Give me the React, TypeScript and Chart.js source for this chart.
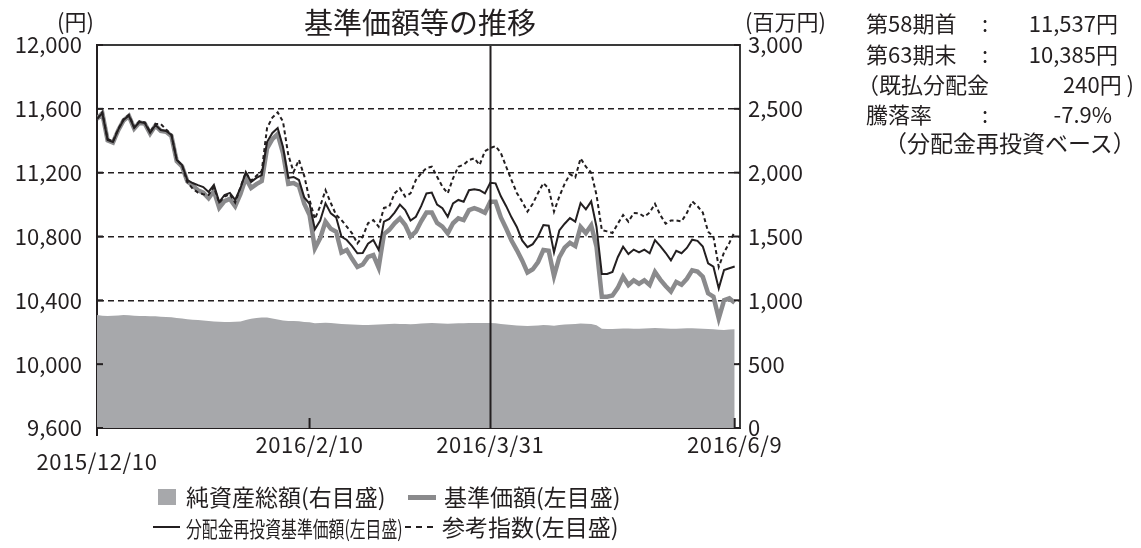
import React, { useEffect, useRef } from "react";
import { Chart, registerables } from "chart.js";

Chart.register(...registerables);

// x positions are business-day indices from 2015/12/10 (0) to 2016/6/9 (120)
const xTickIndex = [0, 40, 74, 120];
const xTickLabels = ["2015/12/10", "2016/2/10", "2016/3/31", "2016/6/9"];
const markerIndex = 74; // 2016/3/31 vertical line

const leftTicks = [9600, 10000, 10400, 10800, 11200, 11600, 12000];
const rightTicks = [0, 500, 1000, 1500, 2000, 2500, 3000];

// 分配金再投資基準価額（左目盛）
const navReinvest = [
  11537, 11574, 11405, 11392, 11470, 11530, 11558, 11480, 11518, 11511,
  11449, 11499, 11467, 11461, 11436, 11279, 11248, 11154, 11135, 11122,
  11110, 11079, 11123, 11016, 11060, 11073, 11029, 11104, 11204, 11142,
  11167, 11185, 11392, 11449, 11480, 11361, 11167, 11173, 11154, 11045,
  11005, 10845, 10900, 11008, 10945, 10920, 10800, 10778, 10740, 10695,
  10697, 10755, 10778, 10716, 10893, 10910, 10950, 11000, 10966, 10900,
  10924, 10990, 11070, 11075, 11000, 10977, 10924, 11008, 11029, 11018,
  11090, 11096, 11090, 11070, 11137, 11133, 11052, 10990, 10920, 10860,
  10775, 10733, 10752, 10800, 10872, 10868, 10700, 10838, 10880, 10915,
  10893, 11010, 10970, 11020, 10860, 10565, 10565, 10578, 10670, 10736,
  10690, 10718, 10700, 10718, 10695, 10778, 10740, 10698, 10650, 10710,
  10695, 10728, 10780, 10773, 10737, 10632, 10611, 10475, 10590, 10601,
  10612,
];

// 基準価額（左目盛）
const navBase = [
  11537, 11572, 11402, 11388, 11466, 11527, 11555, 11476, 11514, 11507,
  11445, 11495, 11462, 11456, 11430, 11272, 11240, 11145, 11120, 11090,
  11075, 11040, 11085, 10980, 11022, 11036, 10990, 11066, 11166, 11104,
  11128, 11147, 11352, 11410, 11442, 11322, 11130, 11135, 11116, 11005,
  10935, 10726, 10790, 10893, 10848, 10830, 10700, 10716, 10660, 10609,
  10625, 10672, 10684, 10605, 10815, 10842, 10883, 10914, 10872, 10800,
  10830, 10895, 10950, 10950, 10885, 10862, 10820, 10883, 10914, 10903,
  10965, 10977, 10965, 10949, 11018, 11018, 10920, 10850, 10775, 10715,
  10650, 10575, 10595, 10640, 10715, 10710, 10552, 10670, 10730, 10760,
  10740, 10860, 10822, 10870, 10736, 10423, 10423, 10430, 10478, 10548,
  10496, 10525, 10504, 10525, 10496, 10578, 10530, 10490, 10455, 10515,
  10498, 10535, 10588, 10580, 10548, 10444, 10423, 10287, 10400, 10412,
  10385,
];

// 参考指数（左目盛）
const benchmark = [
  11537, 11578, 11410, 11396, 11474, 11535, 11562, 11485, 11522, 11515,
  11455, 11505, 11505, 11470, 11440, 11282, 11246, 11140, 11100, 11075,
  11065, 11060, 11110, 11010, 11050, 11065, 11012, 11110, 11200, 11150,
  11180, 11210, 11480, 11545, 11578, 11520, 11310, 11205, 11280, 11180,
  11030, 10910, 10990, 11090, 11010, 10935, 10903, 10862, 10820, 10757,
  10799, 10883, 10903, 10862, 10979, 10987, 11070, 11102, 11050, 11070,
  11154, 11196, 11229, 11237, 11175, 11112, 11070, 11165, 11237, 11250,
  11279, 11290, 11248, 11335, 11354, 11367, 11323, 11237, 11154, 11073,
  11020, 10956, 11005, 11073, 11135, 11100, 10956, 11050, 11130, 11190,
  11170, 11290, 11237, 11200, 11060, 10840, 10832, 10822, 10880, 10935,
  10893, 10947, 10945, 10924, 10950, 11005, 10935, 10880, 10900, 10900,
  10895, 10947, 11020, 10990, 10950, 10830, 10799, 10610, 10700, 10760,
  10830,
];

// 純資産総額（右目盛, 百万円）
const netAssets = [
  885, 880, 878, 880, 882, 885, 884, 880, 878, 878,
  876, 875, 872, 870, 868, 862, 858, 852, 848, 845,
  842, 838, 835, 832, 830, 830, 832, 835, 845, 855,
  862, 866, 865, 858, 850, 842, 838, 838, 836, 830,
  828, 820, 822, 825, 822, 818, 815, 812, 810, 808,
  806, 806, 808, 810, 812, 815, 816, 815, 814, 812,
  815, 818, 820, 822, 820, 818, 816, 818, 820, 820,
  822, 823, 823, 822, 822, 820, 815, 810, 806, 802,
  800, 798, 800, 803, 806, 805, 800, 806, 810, 812,
  815, 818, 816, 815, 805, 778, 776, 776, 778, 780,
  780, 778, 778, 780, 782, 784, 782, 780, 778, 778,
  780, 782, 782, 780, 778, 776, 774, 770, 768, 772,
  773,
];

const FONT = '"Noto Sans CJK JP", "Noto Sans", sans-serif';
const INK = "#231f20";

const toXY = (arr: number[]) => arr.map((v, i) => ({ x: i, y: v }));

const decorPlugin = {
  id: "decor",
  afterDatasetsDraw(chart: any) {
    const { ctx, chartArea: a, scales } = chart;
    const xs = scales.x;
    const yl = scales.y;
    const yr = scales.y1;
    ctx.save();
    // 3/31 marker line
    const mx = Math.round(xs.getPixelForValue(markerIndex)) + 0.5;
    ctx.strokeStyle = INK;
    ctx.lineWidth = 2;
    ctx.beginPath();
    ctx.moveTo(mx, a.top);
    ctx.lineTo(mx, a.bottom);
    ctx.stroke();
    // top and right frame
    ctx.strokeStyle = "#3a3a3a";
    ctx.lineWidth = 2;
    ctx.beginPath();
    ctx.moveTo(a.left, a.top);
    ctx.lineTo(a.right, a.top);
    ctx.lineTo(a.right, a.bottom);
    ctx.stroke();
    // inward tick marks on left and right axes
    ctx.strokeStyle = INK;
    ctx.lineWidth = 2;
    leftTicks.forEach((v) => {
      const y = yl.getPixelForValue(v);
      ctx.beginPath();
      ctx.moveTo(a.left, y);
      ctx.lineTo(a.left + 6, y);
      ctx.stroke();
    });
    rightTicks.forEach((v) => {
      const y = yr.getPixelForValue(v);
      ctx.beginPath();
      ctx.moveTo(a.right - 6, y);
      ctx.lineTo(a.right, y);
      ctx.stroke();
    });
    // x-axis tick marks
    xTickIndex.forEach((idx) => {
      const x = xs.getPixelForValue(idx);
      ctx.beginPath();
      if (idx === 0) {
        ctx.moveTo(x, a.bottom);
        ctx.lineTo(x, a.bottom + 8);
      } else if (idx !== markerIndex) {
        ctx.moveTo(x, a.bottom);
        ctx.lineTo(x, a.bottom - 10);
      }
      ctx.stroke();
    });
    // x-axis labels
    ctx.fillStyle = INK;
    ctx.font = `22px ${FONT}`;
    try {
      (ctx as any).letterSpacing = "0.6px";
    } catch (e) {
      /* ignore */
    }
    ctx.textAlign = "center";
    ctx.textBaseline = "middle";
    xTickIndex.forEach((idx, i) => {
      const x = xs.getPixelForValue(idx);
      const y = i === 0 ? a.bottom + 34 : a.bottom + 17;
      ctx.fillText(xTickLabels[i], x, y);
    });
    ctx.restore();
  },
};

export default function App() {
  const ref = useRef<HTMLCanvasElement | null>(null);

  useEffect(() => {
    if (!ref.current) return;
    const chart = new Chart(ref.current, {
      type: "line",
      data: {
        datasets: [
          {
            label: "参考指数(左目盛)",
            data: toXY(benchmark),
            yAxisID: "y",
            borderColor: INK,
            borderWidth: 2,
            borderDash: [4, 3],
            pointRadius: 0,
            tension: 0,
            order: 0,
          },
          {
            label: "分配金再投資基準価額(左目盛)",
            data: toXY(navReinvest),
            yAxisID: "y",
            borderColor: INK,
            borderWidth: 2,
            pointRadius: 0,
            tension: 0,
            order: 1,
          },
          {
            label: "基準価額(左目盛)",
            data: toXY(navBase),
            yAxisID: "y",
            borderColor: "#8a8a8c",
            borderWidth: 4.5,
            pointRadius: 0,
            tension: 0,
            order: 2,
          },
          {
            label: "純資産総額(右目盛)",
            data: toXY(netAssets),
            yAxisID: "y1",
            borderWidth: 0,
            borderColor: "rgba(0,0,0,0)",
            backgroundColor: "#a7a8ab",
            fill: "start",
            pointRadius: 0,
            tension: 0,
            order: 3,
          },
        ],
      },
      options: {
        responsive: false,
        animation: false,
        events: [],
        layout: { padding: { top: 45, left: 0, right: 0, bottom: 0 } },
        plugins: {
          legend: { display: false },
          title: { display: false },
          tooltip: { enabled: false },
        },
        scales: {
          x: {
            type: "linear",
            min: 0,
            max: 121,
            ticks: { display: false },
            grid: { display: false, drawTicks: false },
            border: { display: true, color: INK, width: 2 },
            afterFit: (s: any) => {
              s.height = 120;
            },
          },
          y: {
            position: "left",
            min: 9600,
            max: 12000,
            afterBuildTicks: (s: any) => {
              s.ticks = leftTicks.map((v) => ({ value: v }));
            },
            ticks: {
              padding: 15,
              color: INK,
              font: { family: FONT, size: 22 },
              callback: (v: any) => Number(v).toLocaleString("en-US"),
            },
            grid: { color: INK, lineWidth: 1.6, drawTicks: false },
            border: { display: true, color: INK, width: 2, dash: [6, 4] },
            afterFit: (s: any) => {
              s.width = 97;
            },
          },
          y1: {
            position: "right",
            min: 0,
            max: 3000,
            afterBuildTicks: (s: any) => {
              s.ticks = rightTicks.map((v) => ({ value: v }));
            },
            ticks: {
              padding: 8,
              color: INK,
              font: { family: FONT, size: 22 },
              callback: (v: any) => Number(v).toLocaleString("en-US"),
            },
            grid: { display: false, drawTicks: false },
            border: { display: true, color: INK, width: 2 },
            afterFit: (s: any) => {
              s.width = 401;
            },
          },
        },
      },
      plugins: [decorPlugin],
    } as any);
    return () => chart.destroy();
  }, []);

  const txt: React.CSSProperties = {
    position: "absolute",
    fontFamily: FONT,
    color: INK,
    whiteSpace: "nowrap",
    lineHeight: 1,
  };

  return (
    <div
      style={{
        position: "absolute",
        left: 0,
        top: 0,
        width: 1141,
        height: 548,
        background: "#fff",
        overflow: "hidden",
      }}
    >
      <canvas ref={ref} width={1141} height={548} style={{ position: "absolute", left: 0, top: 0 }} />
      {/* title and unit labels */}
      <div style={{ ...txt, left: 304, top: 7, fontSize: 29 }}>基準価額等の推移</div>
      <div style={{ ...txt, left: 57, top: 9, fontSize: 22 }}>(円)</div>
      <div style={{ ...txt, left: 745, top: 9, fontSize: 22 }}>(百万円)</div>

      {/* right info block */}
      <div style={{ ...txt, left: 866, top: 11, fontSize: 22 }}>第58期首</div>
      <div style={{ ...txt, left: 982, top: 11, fontSize: 22 }}>:</div>
      <div style={{ ...txt, left: 1000, width: 118, textAlign: "right", top: 11, fontSize: 22 }}>11,537円</div>

      <div style={{ ...txt, left: 866, top: 42, fontSize: 22 }}>第63期末</div>
      <div style={{ ...txt, left: 982, top: 42, fontSize: 22 }}>:</div>
      <div style={{ ...txt, left: 1000, width: 118, textAlign: "right", top: 42, fontSize: 22 }}>10,385円</div>

      <div style={{ ...txt, left: 857, top: 72, fontSize: 22 }}>（既払分配金</div>
      <div style={{ ...txt, left: 1010, width: 124, textAlign: "right", top: 72, fontSize: 22 }}>240円 )</div>

      <div style={{ ...txt, left: 866, top: 102, fontSize: 22 }}>騰落率</div>
      <div style={{ ...txt, left: 982, top: 102, fontSize: 22 }}>:</div>
      <div style={{ ...txt, left: 1000, width: 112, textAlign: "right", top: 102, fontSize: 22 }}>-7.9%</div>

      <div style={{ ...txt, left: 884, top: 131, fontSize: 23 }}>（分配金再投資ベース）</div>

      {/* legend */}
      <div style={{ position: "absolute", left: 158, top: 489, width: 18, height: 16, background: "#a7a8ab" }} />
      <div style={{ ...txt, left: 186, top: 485, fontSize: 23 }}>純資産総額(右目盛)</div>
      <div style={{ position: "absolute", left: 408, top: 495, width: 28, height: 5, background: "#8a8a8c" }} />
      <div style={{ ...txt, left: 444, top: 485, fontSize: 23 }}>基準価額(左目盛)</div>

      <div style={{ position: "absolute", left: 153, top: 526, width: 27, height: 2, background: INK }} />
      <div
        style={{
          ...txt,
          left: 186,
          top: 516,
          fontSize: 22,
          transform: "scaleX(0.72)",
          transformOrigin: "left center",
        }}
      >
        分配金再投資基準価額(左目盛)
      </div>
      <div
        style={{
          position: "absolute",
          left: 405,
          top: 526,
          width: 28,
          height: 0,
          borderTop: `2px dashed ${INK}`,
        }}
      />
      <div style={{ ...txt, left: 442, top: 515, fontSize: 23 }}>参考指数(左目盛)</div>
    </div>
  );
}
